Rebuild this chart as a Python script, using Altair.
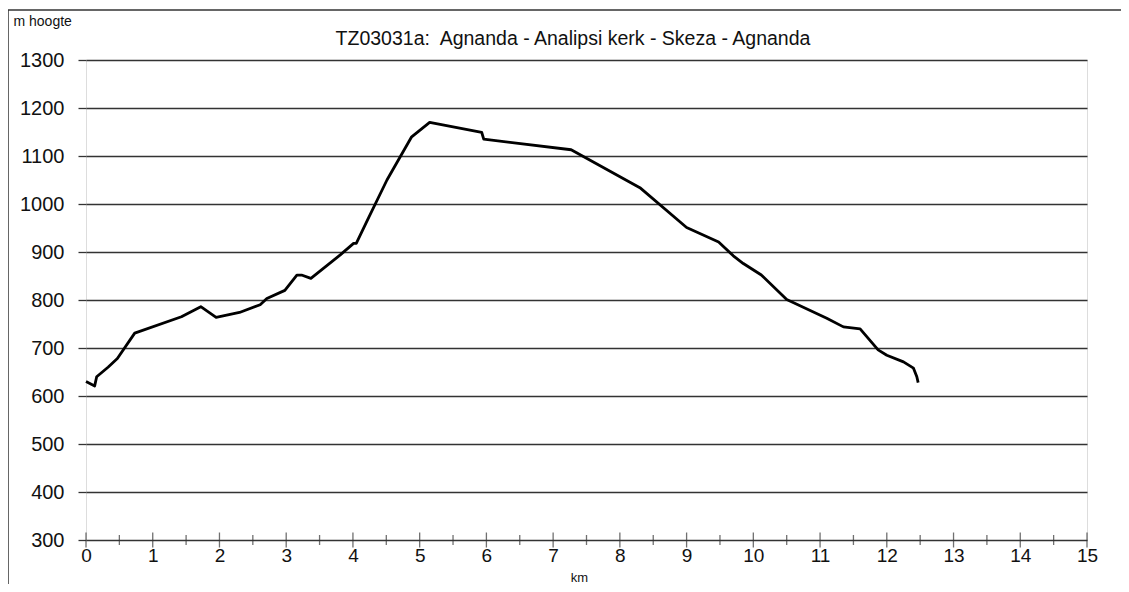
import altair as alt
import pandas as pd

# Route profile: distance (km) and elevation (m)
km = [0, 0.13, 0.16, 0.33, 0.47, 0.73, 1.43, 1.72, 1.95, 2.30, 2.61, 2.71, 2.98,
      3.16, 3.23, 3.37, 3.81, 4.01, 4.05, 4.23, 4.51, 4.88, 5.15, 5.93, 5.96,
      7.27, 8.30, 9.00, 9.48, 9.70, 9.85, 10.12, 10.50, 11.10, 11.35, 11.60,
      11.87, 12.00, 12.25, 12.40, 12.45, 12.47]
hoogte = [630, 621, 640, 660, 678, 731, 765, 786, 764, 774, 790, 803, 820,
          852, 852, 845, 894, 918, 918, 970, 1050, 1140, 1170, 1149, 1135,
          1113, 1034, 951, 921, 892, 876, 852, 801, 762, 744, 740,
          696, 685, 671, 658, 640, 628]

major_ticks = list(range(0, 16))
minor_ticks = [0.5, 1.5, 2.5, 3.5, 4.5, 5.5, 6.5, 7.5, 8.5, 9.5, 10.5, 11.5,
               12.5, 13.5, 14.5]
y_ticks = [300, 400, 500, 600, 700, 800, 900, 1000, 1100, 1200, 1300]

title_text = "TZ03031a:\u00a0 Agnanda - Analipsi kerk - Skeza - Agnanda"
FONT = "Liberation Sans"

df = pd.DataFrame({"km": km, "hoogte": hoogte, "i": range(len(km))})
df_major = pd.DataFrame({"km": major_ticks, "hoogte": [300] * len(major_ticks)})
df_minor = pd.DataFrame({"km": minor_ticks, "hoogte": [300] * len(minor_ticks)})
df_title = pd.DataFrame({"t": [title_text]})

W, H = 1001, 480

xscale = alt.Scale(domain=[0, 15], nice=False, zero=False)
yscale = alt.Scale(domain=[300, 1300], nice=False, zero=False)

line = alt.Chart(df).mark_line(color="black", strokeWidth=2.8, strokeJoin="round").encode(
    x=alt.X("km:Q", scale=xscale,
            axis=alt.Axis(values=major_ticks, format="d", ticks=False, domain=False,
                          grid=False, labelFont=FONT, labelFontSize=19,
                          labelColor="#111", labelPadding=6, labelFlush=False,
                          labelOverlap=False,
                          title="km", titleFont=FONT, titleFontSize=13,
                          titleFontWeight="normal", titleColor="#111",
                          titleX=493, titleY=41, titleAnchor="middle",
                          titleBaseline="alphabetic")),
    y=alt.Y("hoogte:Q", scale=yscale,
            axis=alt.Axis(values=y_ticks, format="d", ticks=True, tickSize=8,
                          tickColor="#333", tickWidth=1.3, domain=False, grid=True,
                          gridColor="#333", gridWidth=1.4, labelFont=FONT,
                          labelFontSize=20, labelColor="#111", labelPadding=14,
                          labelFlush=False, labelOverlap=False,
                          title="m hoogte", titleFont=FONT, titleFontSize=14,
                          titleFontWeight="normal", titleColor="#111",
                          titleAngle=0, titleAlign="left", titleBaseline="alphabetic",
                          titleX=-73, titleY=-35)),
    order="i:O",
)

major = alt.Chart(df_major).mark_tick(orient="vertical", size=15, thickness=1.3,
                                      color="#333").encode(
    x=alt.X("km:Q", scale=xscale), y=alt.Y("hoogte:Q", scale=yscale))
minor = alt.Chart(df_minor).mark_tick(orient="vertical", size=10, thickness=1.3,
                                      color="#333").encode(
    x=alt.X("km:Q", scale=xscale), y=alt.Y("hoogte:Q", scale=yscale))

title = alt.Chart(df_title).mark_text(font=FONT, fontSize=19.5, color="#111",
                                      align="center", baseline="alphabetic").encode(
    text="t:N", x=alt.value(487), y=alt.value(-15))

# outer frame of the picture
frame_top = alt.Chart(df_title).mark_rule(color="#333", strokeWidth=1.5).encode(
    x=alt.value(-78), x2=alt.value(1040), y=alt.value(-50))
frame_left = alt.Chart(df_title).mark_rule(color="#333", strokeWidth=1.5).encode(
    x=alt.value(-78), y=alt.value(-50), y2=alt.value(530))

chart = alt.layer(frame_top, frame_left, title, line, major, minor).properties(
    width=W, height=H,
    autosize=alt.AutoSizeParams(type="none"),
    padding={"left": 78, "top": 52, "right": 34, "bottom": 44},
).configure_view(stroke="#333", strokeWidth=1.5).configure(background="white")

chart.save("out.html", embed_options={"renderer": "svg", "actions": False})
